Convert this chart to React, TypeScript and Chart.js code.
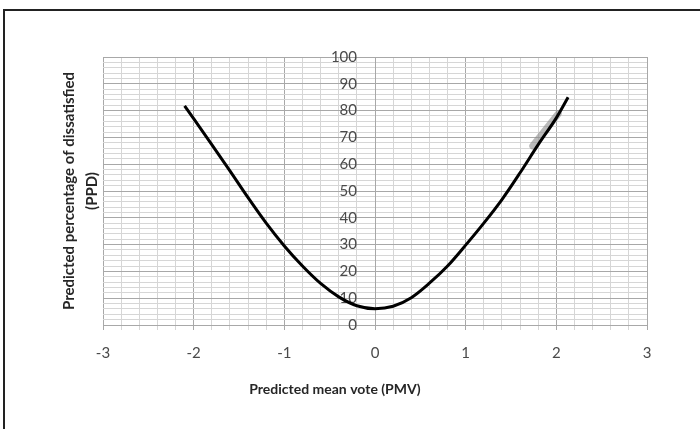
import React, { useEffect, useRef } from "react";
import { Chart, registerables } from "chart.js";

Chart.register(...registerables);

// Curve: PMV (x) vs PPD (y)
const pmv = [-2.1, -2.0, -1.8, -1.6, -1.4, -1.2, -1.0, -0.8, -0.6, -0.4, -0.2, 0, 0.2, 0.4, 0.6, 0.8, 1.0, 1.2, 1.4, 1.6, 1.8, 2.0, 2.13];
const ppd = [81.8, 77.0, 67.3, 57.5, 47.5, 38.0, 29.5, 22.0, 15.5, 10.5, 7.2, 6.1, 7.0, 10.2, 15.6, 22.0, 29.8, 38.0, 46.8, 56.8, 67.3, 77.3, 85.0];

// Gray highlighted segment
const highlightPmv = [1.74, 2.02];
const highlightPpd = [66.8, 78.8];

// Axis ranges, grid steps and tick labels
const xMin = -3;
const xMax = 3;
const xMinorStep = 0.2;
const yMin = 0;
const yMax = 100;
const yMinorStep = 2;
const yTickLabels = [0, 10, 20, 30, 40, 50, 60, 70, 80, 90, 100];

const xTitle = "Predicted mean vote (PMV)";
const yTitle = ["Predicted percentage of dissatisfied", "(PPD)"];

const FONT = "Lato, 'Open Sans', sans-serif";
const LABEL_COLOR = "#4a4a4a";

const isMultiple = (v: number, m: number) => {
  const r = Math.round((v / m) * 1000) / 1000;
  return Math.abs(r - Math.round(r)) < 1e-6;
};

const makeTicks = (min: number, max: number, step: number) => {
  const out: { value: number }[] = [];
  const n = Math.round((max - min) / step);
  for (let i = 0; i <= n; i++) out.push({ value: Math.round((min + i * step) * 1000) / 1000 });
  return out;
};

// Y tick labels sit left of the y axis (which crosses at x = 0)
const yLabelsPlugin = {
  id: "yLabelsAtOrigin",
  beforeDatasetsDraw(chart: any) {
    const { ctx } = chart;
    const xs = chart.scales.x;
    const ys = chart.scales.y;
    const ax = xs.getPixelForValue(0);
    ctx.save();
    ctx.fillStyle = LABEL_COLOR;
    ctx.font = `15px ${FONT}`;
    ctx.textAlign = "right";
    ctx.textBaseline = "middle";
    yTickLabels.forEach((v) => ctx.fillText(String(v), ax - 18, ys.getPixelForValue(v)));
    ctx.restore();
  },
};

const titlesPlugin = {
  id: "axisTitles",
  afterDraw(chart: any) {
    const { ctx, chartArea } = chart;
    ctx.save();
    ctx.fillStyle = "#262626";
    ctx.textAlign = "center";
    ctx.textBaseline = "middle";
    ctx.font = `bold 14px ${FONT}`;
    ctx.fillText(xTitle, chartArea.left + 232, chartArea.bottom + 64);
    const cy = (chartArea.top + chartArea.bottom) / 2;
    ctx.font = `bold 15px ${FONT}`;
    ctx.translate(chartArea.left - 34, cy);
    ctx.rotate(-Math.PI / 2);
    yTitle.forEach((line, i) => ctx.fillText(line, 0, i * 23));
    ctx.restore();
  },
};

export default function App() {
  const canvasRef = useRef<HTMLCanvasElement | null>(null);

  useEffect(() => {
    document.body.style.margin = "0";
    const canvas = canvasRef.current;
    if (!canvas) return;
    const chart = new Chart(canvas, {
      type: "scatter",
      data: {
        datasets: [
          {
            label: "PPD",
            data: pmv.map((x, i) => ({ x, y: ppd[i] })),
            showLine: true,
            borderColor: "#000000",
            borderWidth: 3,
            pointRadius: 0,
            cubicInterpolationMode: "monotone",
            order: 1,
          },
          {
            label: "highlight",
            data: highlightPmv.map((x, i) => ({ x, y: highlightPpd[i] })),
            showLine: true,
            borderColor: "rgba(140,140,140,0.6)",
            borderWidth: 7,
            borderCapStyle: "round",
            pointRadius: 0,
            order: 2,
          },
        ],
      },
      options: {
        animation: false,
        responsive: false,
        devicePixelRatio: 1,
        layout: { padding: { left: 103, right: 53, top: 57, bottom: 64 } },
        plugins: { legend: { display: false }, tooltip: { enabled: false } },
        scales: {
          x: {
            type: "linear",
            position: "bottom",
            min: xMin,
            max: xMax,
            afterBuildTicks: (s: any) => {
              s.ticks = makeTicks(xMin, xMax, xMinorStep);
            },
            afterFit: (s: any) => {
              s.height = 40;
            },
            ticks: {
              autoSkip: false,
              maxRotation: 0,
              padding: 14,
              color: LABEL_COLOR,
              font: { family: FONT, size: 15 },
              callback: (v: any) => (isMultiple(Number(v), 1) ? String(Math.round(Number(v))) : ""),
            },
            grid: {
              color: (c: any) => (c.tick && isMultiple(c.tick.value, 1) ? "#a8a8a8" : "#d6d6d6"),
              tickLength: 5,
              lineWidth: 1,
            },
            border: { display: true, color: "#a8a8a8" },
          },
          y: {
            type: "linear",
            position: { x: 0 } as any,
            min: yMin,
            max: yMax,
            afterBuildTicks: (s: any) => {
              s.ticks = makeTicks(yMin, yMax, yMinorStep);
            },
            ticks: { display: false },
            grid: {
              color: (c: any) => (c.tick && isMultiple(c.tick.value, 10) ? "#a8a8a8" : "#d6d6d6"),
              drawTicks: false,
              lineWidth: 1,
            },
            border: { display: true, color: "#a8a8a8" },
          },
        },
      },
      plugins: [yLabelsPlugin, titlesPlugin],
    });
    return () => chart.destroy();
  }, []);

  return (
    <div style={{ position: "relative", width: 700, height: 429, background: "#fff", overflow: "hidden" }}>
      <div style={{ position: "absolute", left: 3, top: 9, width: 697, height: 2, background: "#222" }} />
      <div style={{ position: "absolute", left: 3, top: 9, width: 2, height: 420, background: "#222" }} />
      <canvas ref={canvasRef} width={700} height={429} style={{ position: "absolute", left: 0, top: 0 }} />
    </div>
  );
}
